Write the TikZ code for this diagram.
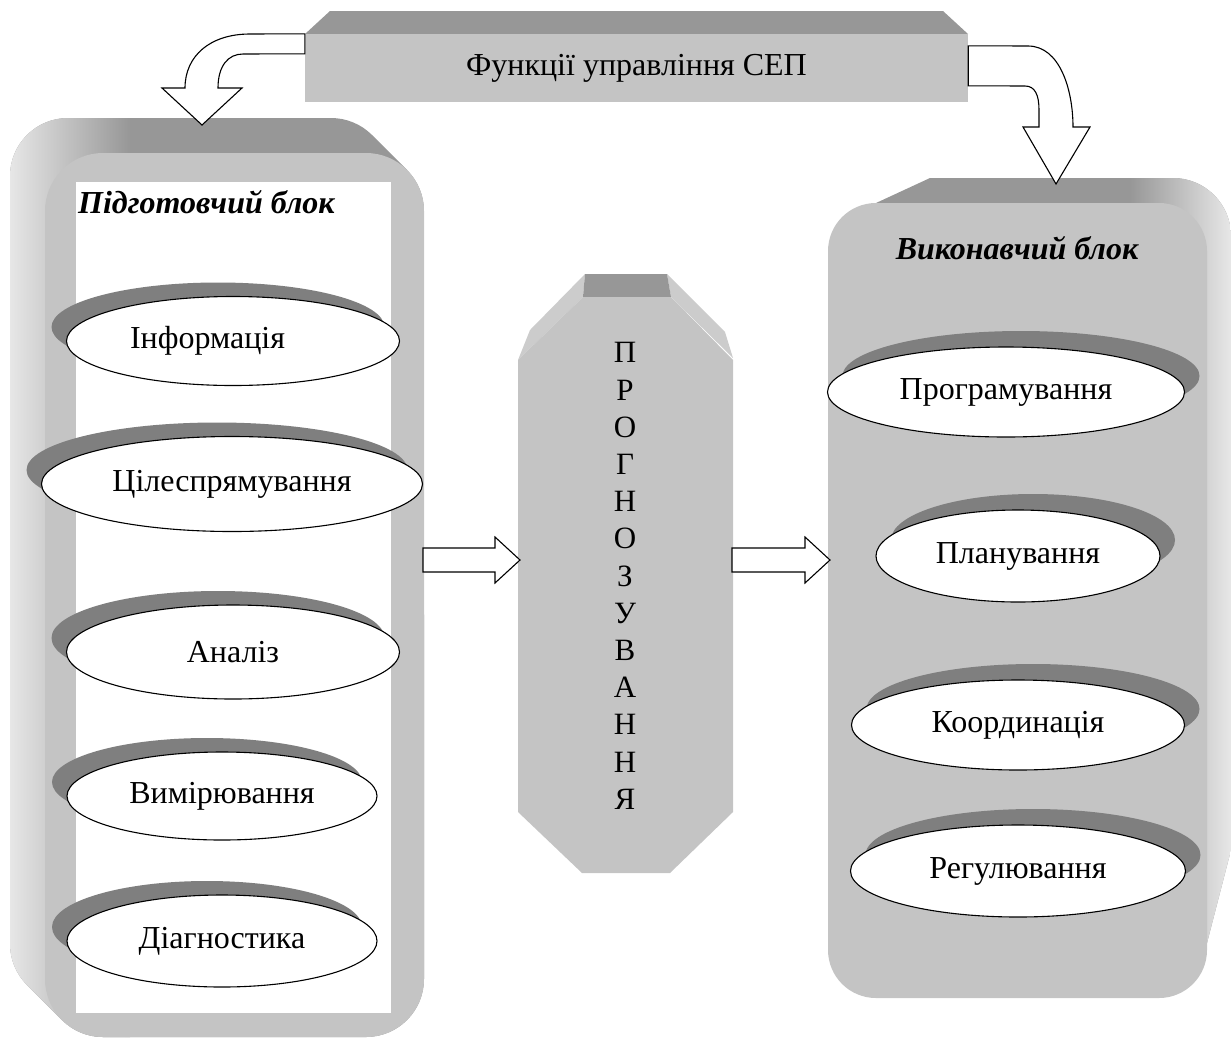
\documentclass[tikz,border=0pt]{standalone}
\usepackage{fontspec}
\setmainfont{Liberation Serif}
\usetikzlibrary{positioning,shapes.geometric,shadows,calc}
\definecolor{face}{HTML}{C4C4C4}
\definecolor{topside}{HTML}{979797}
\definecolor{litside}{HTML}{E8E8E8}
\definecolor{ovalshade}{HTML}{7F7F7F}
\definecolor{octside}{HTML}{CCCCCC}
% hollow block arrow between two points
\newcommand{\hollowarrow}[2]{%
  \draw[hollowarr] ($(#1)+(0,-12)$) -- ($(#2)+(-25,-12)$) -- ($(#2)+(-25,-23)$)
    -- (#2) -- ($(#2)+(-25,23)$) -- ($(#2)+(-25,12)$) -- ($(#1)+(0,12)$) -- cycle;}
\tikzset{
  facebox/.style={fill=face,draw=none,inner sep=0pt},
  oval/.style={ellipse,draw=black,fill=white,line width=1.1pt,inner sep=0pt,
               font=\fontsize{32}{36}\selectfont},
  shadeL/.style={general shadow={fill=ovalshade,shadow xshift=-15pt,shadow yshift=14pt}},
  shadeR/.style={general shadow={fill=ovalshade,shadow xshift=15pt,shadow yshift=16pt}},
  blocktitle/.style={inner sep=0pt,font=\fontsize{32}{36}\selectfont\bfseries\itshape},
  hollowarr/.style={draw=black,fill=white,line width=1.1pt,line join=miter}
}
\begin{document}
\begin{tikzpicture}[x=1pt,y=-1pt]
  \useasboundingbox (0,0) rectangle (1231,1039);

  % left block (preparation)
  \begin{scope}
    \clip (10,176) arc[start angle=180,end angle=270,radius=58] -- (331,118)
      arc[start angle=270,end angle=315,radius=58] -- (407,170)
      arc[start angle=315,end angle=360,radius=58] -- (424,979)
      arc[start angle=0,end angle=90,radius=58] -- (103,1037)
      arc[start angle=90,end angle=135,radius=58] -- (27,985)
      arc[start angle=135,end angle=180,radius=58] -- cycle;
    \fill[topside] (0,100) rectangle (440,1039);
    \shade[left color=litside,right color=topside] (8,100) rectangle (130,1039);
  \end{scope}
  \node[facebox,rounded corners=58,minimum width=379,minimum height=884] (prep) at (234.5,595) {};
  \node[fill=white,inner sep=0pt,minimum width=315,minimum height=831] (prepin) at (233.5,597.5) {};
  \node[blocktitle,anchor=west] (preptitle) at (78,202) {Підготовчий блок};

  % right block (execution)
  \begin{scope}
    \clip (828,250) -- (876,203) -- (930,178) -- (1173,178)
      arc[start angle=270,end angle=360,radius=58] -- (1231,850) -- (1207,943)
      -- (1207,250) -- cycle;
    \fill[topside] (820,170) rectangle (1231,1000);
    \shade[left color=topside,right color=litside] (1130,170) rectangle (1232,1000);
  \end{scope}
  \node[facebox,rounded corners=48,minimum width=379,minimum height=795] (exec) at (1017.5,600.5) {};
  \node[blocktitle] (exectitle) at (1017,248) {Виконавчий блок};

  % title banner
  \fill[topside] (305,34) -- (330,11) -- (943,11) -- (968,34) -- cycle;
  \node[facebox,minimum width=663,minimum height=68,font=\fontsize{32}{36}\selectfont] (title) at (636.5,68) {Функції управління СЕП};

  % forecasting octagon
  \fill[octside] (585,274) -- (530,330) -- (518,360) -- (583,297) -- cycle;
  \fill[octside] (667,274) -- (725,332) -- (733,358) -- (671,297) -- cycle;
  \fill[topside] (585,274) -- (667,274) -- (671,297) -- (583,297) -- cycle;
  \fill[face] (583,297) -- (671,297) -- (733,360) -- (733,812) -- (670,873)
    -- (582,873) -- (518,812) -- (518,360) -- cycle;
  \node[align=center,inner sep=0pt,font=\fontsize{31}{37.2}\selectfont] (fc) at (625,576)
    {П\\Р\\О\\Г\\Н\\О\\З\\У\\В\\А\\Н\\Н\\Я};

  % ellipses, preparation
  \node[oval,shadeL,minimum width=333,minimum height=89] (inf) at (233,341) {\hspace*{-51pt}Інформація};
  \node[oval,shadeL,minimum width=381,minimum height=95] (goal) at (232,484) {Цілеспрямування};
  \node[oval,shadeL,minimum width=333,minimum height=94] (anal) at (233,652) {Аналіз};
  \node[oval,shadeL,minimum width=310,minimum height=88] (meas) at (222,796) {Вимірювання};
  \node[oval,shadeL,minimum width=310,minimum height=92] (diag) at (222,941) {Діагностика};

  % ellipses, execution
  \node[oval,shadeR,minimum width=357,minimum height=90] (prog) at (1006,392) {Програмування};
  \node[oval,shadeR,minimum width=284,minimum height=92] (plan) at (1018,556) {Планування};
  \node[oval,shadeR,minimum width=333,minimum height=90] (coord) at (1018,725) {Координація};
  \node[oval,shadeR,minimum width=335,minimum height=92] (reg) at (1018,871) {Регулювання};

  % curved arrows from the banner
  \draw[hollowarr] (title.north west) -- (250,34) .. controls (210,34) and (185,56) .. (185,88)
    -- (162,88) -- (202,125) -- (242,88) -- (218,88) .. controls (218,66) and (228,54) .. (243,54)
    -- ($(title.north west)+(0,20)$) -- cycle;
  \draw[hollowarr] ($(title.north east)+(0,12)$) -- (1028,46) .. controls (1060,46) and (1073,90) .. (1073,127)
    -- (1090,127) -- (1056,184) -- (1023,127) -- (1039,127) -- (1039,110)
    .. controls (1039,95) and (1035,86) .. (1025,86) -- ($(title.north east)+(0,52)$) -- cycle;

  % straight arrows
  \coordinate (a1) at (423,560);
  \coordinate (a1tip) at (520,560);
  \coordinate (a2) at (732,560);
  \coordinate (a2tip) at (830,560);
  \hollowarrow{a1}{a1tip}
  \hollowarrow{a2}{a2tip}
\end{tikzpicture}
\end{document}
